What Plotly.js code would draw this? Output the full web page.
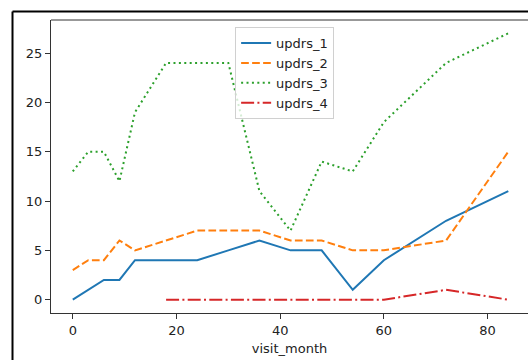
<!DOCTYPE html>
<html>
<head>
<meta charset="utf-8">
<script src="https://cdn.plot.ly/plotly-3.0.1.min.js"></script>
<style>html,body{margin:0;padding:0;background:#fff;}#chart{width:528px;height:360px;}</style>
</head>
<body>
<div id="chart"></div>
<script>
const visitMonth = [0, 3, 6, 9, 12, 18, 24, 30, 36, 42, 48, 54, 60, 72, 84];
const updrs1 = [0, 1, 2, 2, 4, 4, 4, 5, 6, 5, 5, 1, 4, 8, 11];
const updrs2 = [3, 4, 4, 6, 5, 6, 7, 7, 7, 6, 6, 5, 5, 6, 15];
const updrs3 = [13, 15, 15, 12, 19, 24, 24, 24, 11, 7, 14, 13, 18, 24, 27];
const updrs4 = [null, null, null, null, null, 0, 0, 0, 0, 0, 0, 0, 0, 1, 0];
const seriesNames = ['updrs_1', 'updrs_2', 'updrs_3', 'updrs_4'];
const xTicks = [0, 20, 40, 60, 80];
const yTicks = [0, 5, 10, 15, 20, 25];

const colors = ['#1f77b4', '#ff7f0e', '#2ca02c', '#d62728'];
const dashes = ['solid', '7.7px,3.3px', '2px,3.4px', '13px,3.3px,2px,3.3px'];
const ys = [updrs1, updrs2, updrs3, updrs4];

const traces = ys.map((y, i) => ({
  x: visitMonth, y: y, name: seriesNames[i], type: 'scatter', mode: 'lines',
  line: {color: colors[i], width: 2, dash: dashes[i]}, connectgaps: false
}));

const font = {family: 'DejaVu Sans', size: 13, color: '#222'};
const layout = {
  width: 528, height: 360,
  margin: {l: 51, r: 0, t: 20, b: 47, pad: 0},
  paper_bgcolor: '#fff', plot_bgcolor: '#fff',
  font: font,
  showlegend: true,
  legend: {x: 0.386, y: 0.976, xanchor: 'left', yanchor: 'top',
    bgcolor: 'rgba(255,255,255,0.8)', bordercolor: '#d0d0d0', borderwidth: 1,
    itemwidth: 30,
    font: {family: 'DejaVu Sans', size: 13, color: '#222'}, tracegroupgap: 0},
  xaxis: {range: [-4.2, 87.8], tickvals: xTicks, ticktext: xTicks.map(String),
    showgrid: false, zeroline: false, showline: true, linecolor: '#333', linewidth: 1,
    ticks: 'outside', ticklen: 5, tickcolor: '#333', tickfont: font,
    title: {text: 'visit_month', font: font, standoff: 7}},
  yaxis: {range: [-1.35, 28.35], tickvals: yTicks, ticktext: yTicks.map(String),
    showgrid: false, zeroline: false, showline: true, linecolor: '#333', linewidth: 1,
    ticks: 'outside', ticklen: 5, tickcolor: '#333', tickfont: font},
  shapes: [
    {type: 'line', xref: 'paper', yref: 'paper', x0: 0, x1: 1, y0: 1, y1: 1, line: {color: '#333', width: 1}},
    {type: 'line', xref: 'paper', yref: 'paper', x0: -0.0807, x1: 1.01, y0: 1.029, y1: 1.029, line: {color: '#000', width: 2}},
    {type: 'line', xref: 'paper', yref: 'paper', x0: -0.0807, x1: -0.0807, y0: 1.029, y1: -0.17, line: {color: '#000', width: 2}}
  ]
};
Plotly.newPlot('chart', traces, layout, {displayModeBar: false, staticPlot: true});
</script>
</body>
</html>
